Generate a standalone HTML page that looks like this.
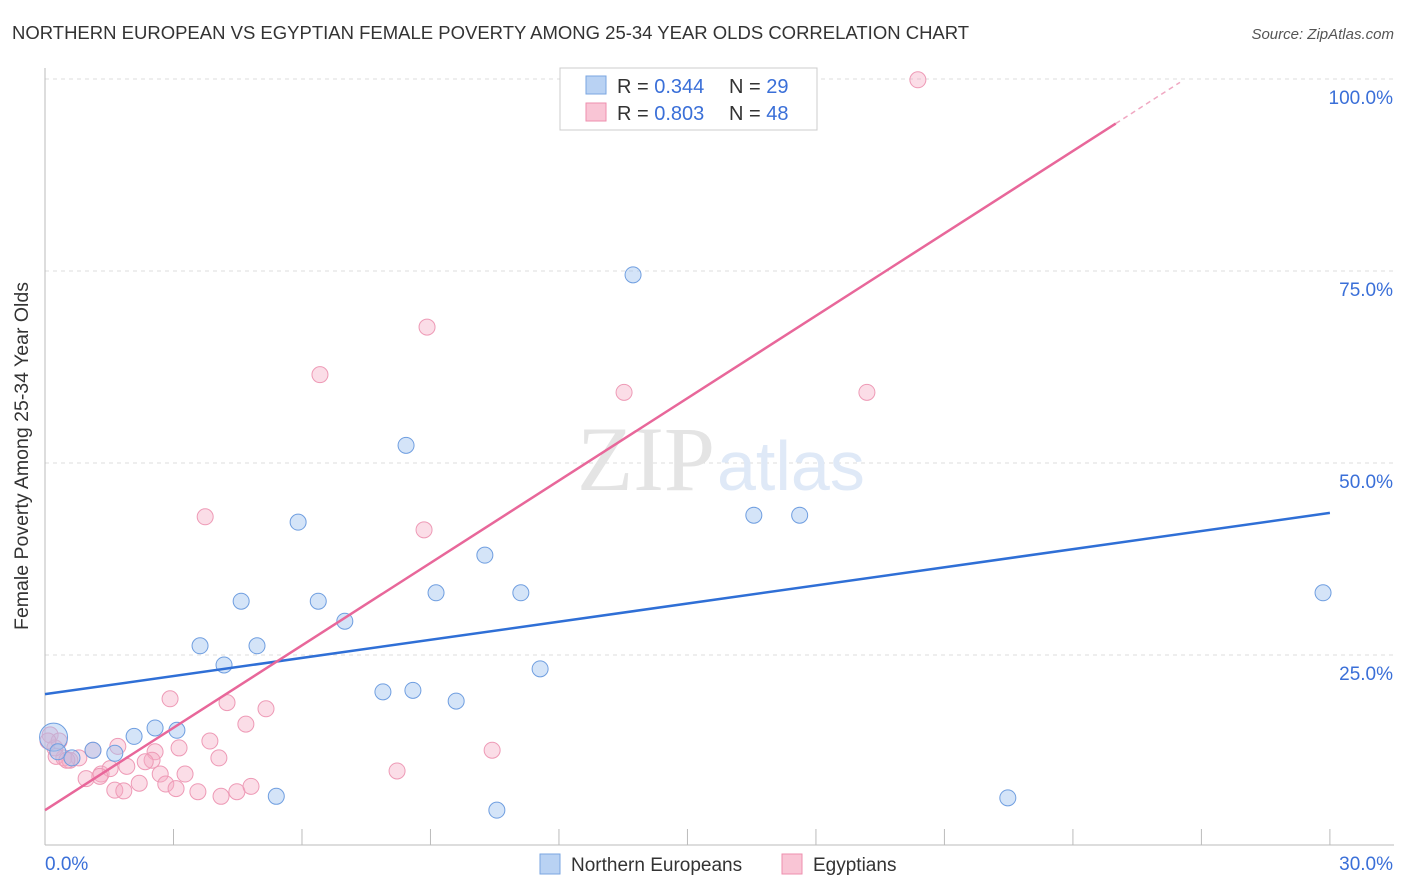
<!DOCTYPE html>
<html><head><meta charset="utf-8"><style>
body{margin:0;background:#fff;font-family:"Liberation Sans",sans-serif;}
#wrap{position:relative;width:1406px;height:892px;overflow:hidden;}
</style></head><body>
<div id="wrap">
<svg id="svg" width="1406" height="892" xmlns="http://www.w3.org/2000/svg">
<text x="12" y="39" font-size="18.5" fill="#333">NORTHERN EUROPEAN VS EGYPTIAN FEMALE POVERTY AMONG 25-34 YEAR OLDS CORRELATION CHART</text>
<text x="1394" y="39" font-size="15" fill="#555" font-style="italic" text-anchor="end">Source: ZipAtlas.com</text>
<g id="grid"></g>
<text x="715" y="490" font-size="92" fill="#e4e4e4" text-anchor="end" font-family="Liberation Serif">ZIP</text>
<text x="717" y="490" font-size="70" fill="#dfe9f7">atlas</text>
<text x="28" y="456" font-size="19.5" fill="#333" text-anchor="middle" transform="rotate(-90 28 456)">Female Poverty Among 25-34 Year Olds</text>
<g id="marks"></g>
<g>
<rect x="560" y="68" width="257" height="62" fill="#fff" stroke="#ccc"/>
<rect x="586" y="76" width="20" height="18" fill="#b9d2f3" stroke="#7aa6e0"/>
<rect x="586" y="103" width="20" height="18" fill="#f9c5d5" stroke="#ee8fae"/>
<text x="617" y="93" font-size="20" fill="#333">R = <tspan fill="#3a6fd8">0.344</tspan></text>
<text x="729" y="93" font-size="20" fill="#333">N = <tspan fill="#3a6fd8">29</tspan></text>
<text x="617" y="120" font-size="20" fill="#333">R = <tspan fill="#3a6fd8">0.803</tspan></text>
<text x="729" y="120" font-size="20" fill="#333">N = <tspan fill="#3a6fd8">48</tspan></text>
</g>
<g>
<rect x="540" y="854" width="20" height="20" fill="#b9d2f3" stroke="#7aa6e0"/>
<text x="571" y="871" font-size="19" fill="#333">Northern Europeans</text>
<rect x="782" y="854" width="20" height="20" fill="#f9c5d5" stroke="#ee8fae"/>
<text x="813" y="871" font-size="19" fill="#333">Egyptians</text>
</g>
</svg>
<script>
const yTicks=[25,50,75,100];
const yTickLabels=["25.0%","50.0%","75.0%","100.0%"];
const xEndLabels=["0.0%","30.0%"];
const blueX=[0.2,0.3,0.63,1.12,1.63,2.08,2.57,3.08,3.62,4.18,4.58,4.95,5.4,5.91,6.38,7.0,7.89,8.43,8.59,9.13,9.6,10.27,10.55,11.11,11.56,13.73,16.55,17.62,22.48,29.84];
const blueY=[14.3,12.4,11.6,12.6,12.2,14.4,15.5,15.2,26.2,23.7,32.0,26.2,6.6,42.3,32.0,29.4,20.2,52.3,20.4,33.1,19.0,38.0,4.8,33.1,23.2,74.5,43.2,43.2,6.4,33.1];
const pinkX=[20.38,8.92,6.42,13.52,19.19,3.74,8.85,2.92,4.25,5.16,4.69,10.44,8.22,3.85,3.13,4.06,2.57,2.5,1.7,1.12,0.79,0.44,0.23,0.12,0.58,0.96,1.31,1.52,1.91,2.2,2.34,2.69,2.82,3.06,3.27,3.57,4.11,4.48,4.81,1.63,1.84,1.28,0.33,0.07,0.26,0.51];
const pinkY=[99.9,67.7,61.5,59.2,59.2,43.0,41.3,19.3,18.8,18.0,16.0,12.6,9.9,13.8,12.9,11.6,12.4,11.3,13.1,12.6,11.6,11.6,12.9,14.6,11.3,8.9,9.5,10.2,10.5,8.3,11.1,9.5,8.2,7.6,9.5,7.2,6.6,7.2,7.9,7.4,7.3,9.2,13.8,13.8,11.8,11.3];
const blueLine=[19.9,43.5];
const pinkLine=[4.8,3.576];
const X=v=>45+v*42.83, Y=v=>847-v*7.68;
const NS="http://www.w3.org/2000/svg";
function mk(t,a,p){const e=document.createElementNS(NS,t);for(const k in a)e.setAttribute(k,a[k]);p.appendChild(e);return e;}
const g=document.getElementById('grid'), m=document.getElementById('marks');
yTicks.forEach((t,i)=>{
 const l=mk('line',{x1:45,x2:1394,y1:Y(t),y2:Y(t),stroke:'#ddd','stroke-dasharray':'4,4'},g);
 
 
 const tx=mk('text',{x:1393,y:Y(t)+25,'font-size':19,fill:'#3a6fd8','text-anchor':'end'},g);
 tx.textContent=yTickLabels[i];
 
 
});
mk('line',{x1:45,x2:45,y1:68,y2:845,stroke:'#bbb'},g);
mk('line',{x1:45,x2:1394,y1:845,y2:845,stroke:'#bbb'},g);
for(let i=0;i<=10;i++){const t=mk('line',{x1:X(i*3),x2:X(i*3),y1:829,y2:845,stroke:'#bbb'},g);
 
 }
const a=mk('text',{x:45,y:870,'font-size':19,fill:'#3a6fd8'},g);a.textContent=xEndLabels[0];


const b=mk('text',{x:1393,y:870,'font-size':19,fill:'#3a6fd8','text-anchor':'end'},g);b.textContent=xEndLabels[1];


pinkX.forEach((x,i)=>{const c=mk('circle',{cx:X(x),cy:Y(pinkY[i]),r:8,fill:'rgba(246,170,196,0.4)',stroke:'#ee9ab6','stroke-width':1},m);
 
 });
blueX.forEach((x,i)=>{const c=mk('circle',{cx:X(x),cy:Y(blueY[i]),r:i==0?14:8,fill:'rgba(160,195,240,0.45)',stroke:'#6f9ee0','stroke-width':1},m);
 
 });
const bl=mk('line',{x1:X(0),y1:Y(blueLine[0]),x2:X(30),y2:Y(blueLine[1]),stroke:'#2f6fd6','stroke-width':2.5},m);


const pl=mk('line',{x1:X(0),y1:Y(pinkLine[0]),x2:X(25),y2:Y(pinkLine[0]+25*pinkLine[1]),stroke:'#e8679a','stroke-width':2.5},m);


const pd=mk('line',{x1:X(25),y1:Y(pinkLine[0]+25*pinkLine[1]),x2:X(26.5),y2:Y(pinkLine[0]+26.5*pinkLine[1]),stroke:'#f0a8c2','stroke-width':1.5,'stroke-dasharray':'5,4'},m);


</script>
</div></body></html>
